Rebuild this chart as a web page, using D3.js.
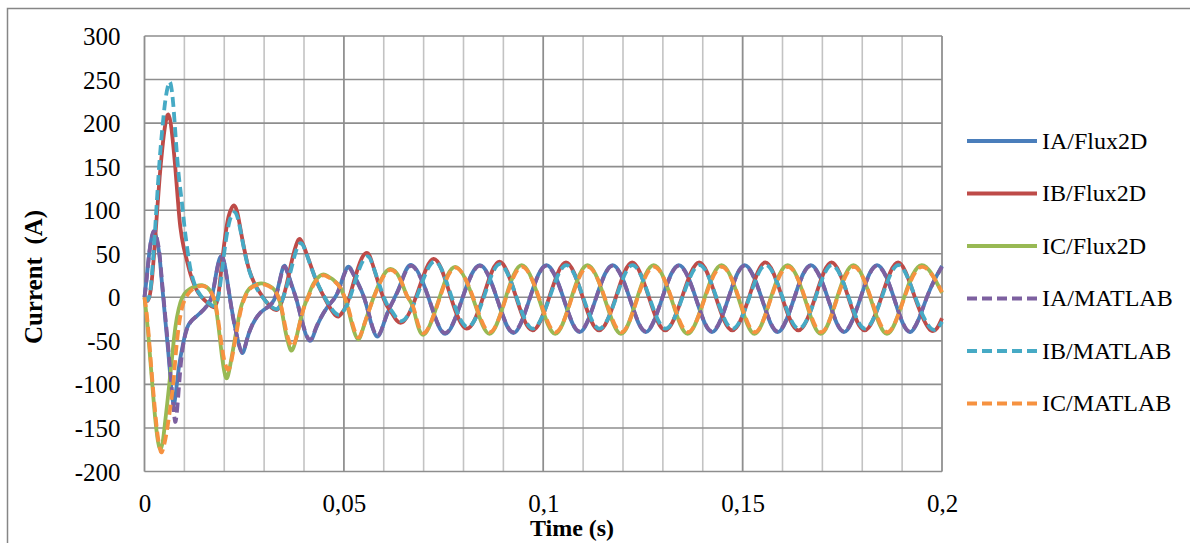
<!DOCTYPE html>
<html><head><meta charset="utf-8">
<script src="https://cdn.jsdelivr.net/npm/d3@7"></script>
<style>
body{margin:0;background:#fff}
svg{display:block}
text{font-family:"Liberation Serif","Times New Roman",serif;fill:#000}
</style>
</head><body>
<svg id="c" width="1190" height="543"></svg>
<script>
// ---------------- data ----------------
const seriesNames = ["IA/Flux2D","IB/Flux2D","IC/Flux2D","IA/MATLAB","IB/MATLAB","IC/MATLAB"];
const xTickValues = [0,0.05,0.1,0.15,0.2];
const xTickLabels = ["0","0,05","0,1","0,15","0,2"];
const yTickValues = [-200,-150,-100,-50,0,50,100,150,200,250,300];
const yTickLabels = ["-200","-150","-100","-50","0","50","100","150","200","250","300"];

const IA_Flux2D = [[0,0],[0.0006,25],[0.0014,58],[0.0023,75],[0.0030,68],[0.0037,50],[0.0043,20],[0.0047,0],[0.0053,-30],[0.0060,-65],[0.0067,-103],[0.0073,-123],[0.0079,-108],[0.0087,-78],[0.0096,-55],[0.0106,-36],[0.0120,-26],[0.0140,-18],[0.0158,-9],[0.0170,3],[0.0180,28],[0.0188,44],[0.0194,47],[0.0201,38],[0.0211,9],[0.0222,-22],[0.0233,-47],[0.0245,-64],[0.0256,-50],[0.0270,-32],[0.0290,-18],[0.0310,-11],[0.0325,-3],[0.0337,15],[0.0348,35],[0.0358,30],[0.0370,13],[0.0382,-4],[0.0398,-33],[0.0415,-50],[0.0430,-36],[0.0449,-18],[0.0466,-7],[0.0482,3],[0.0497,22],[0.0510,35],[0.0524,27],[0.0548,3],[0.0565,-24],[0.0583,-45],[0.0600,-30],[0.0616,-11],[0.0641,14],[0.0670,37],[0.0712,0],[0.0754,-42],[0.0798,0],[0.0841,37],[0.0883,0],[0.0925,-41],[0.0967,0],[0.1008,37],[0.1050,0],[0.1091,-40],[0.1133,0],[0.1174,37],[0.1216,0],[0.1257,-40],[0.1299,0],[0.1340,37],[0.1382,0],[0.1423,-40],[0.1465,0],[0.1505,37],[0.1547,0],[0.1588,-40],[0.1630,0],[0.1671,37],[0.1713,0],[0.1754,-40],[0.1796,0],[0.1837,37],[0.1879,0],[0.1920,-40],[0.1962,0],[0.2000,36]];

const IB_Flux2D = [[0,0],[0.0008,-4],[0.0016,10],[0.0024,50],[0.0031,95],[0.0038,138],[0.0045,172],[0.0052,198],[0.0060,210],[0.0068,192],[0.0077,150],[0.0084,110],[0.0090,80],[0.0098,58],[0.0106,43],[0.0115,27],[0.0125,14],[0.0135,5],[0.0148,-2],[0.0162,-8],[0.0176,-11],[0.0186,5],[0.0194,38],[0.0203,72],[0.0211,93],[0.0219,103],[0.0226,105],[0.0234,95],[0.0244,70],[0.0255,45],[0.0265,28],[0.0278,14],[0.0290,5],[0.0305,-5],[0.0319,-12],[0.0334,-14],[0.0348,0],[0.0360,22],[0.0370,43],[0.0381,61],[0.0390,67],[0.0400,58],[0.0415,39],[0.0430,20],[0.0445,5],[0.0460,-8],[0.0474,-18],[0.0487,-22],[0.0498,-16],[0.0508,-8],[0.0520,10],[0.0533,30],[0.0545,45],[0.0558,51],[0.0572,38],[0.0600,-2],[0.0620,-18],[0.0645,-29],[0.0682,2],[0.0725,44],[0.0767,2],[0.0808,-36],[0.0849,0],[0.0890,41],[0.0932,0],[0.0973,-38],[0.1015,0],[0.1057,40],[0.1099,0],[0.1140,-38],[0.1182,0],[0.1223,40],[0.1265,0],[0.1306,-38],[0.1348,0],[0.1391,40],[0.1433,0],[0.1474,-38],[0.1516,0],[0.1557,40],[0.1599,0],[0.1640,-38],[0.1682,0],[0.1723,40],[0.1765,0],[0.1806,-38],[0.1848,0],[0.1890,40],[0.1932,0],[0.1972,-38],[0.2000,-24]];

const IC_Flux2D = [[0,0],[0.0008,-35],[0.0016,-80],[0.0024,-125],[0.0032,-160],[0.0039,-174],[0.0046,-165],[0.0052,-142],[0.0057,-122],[0.0063,-96],[0.0069,-70],[0.0074,-47],[0.0081,-24],[0.0090,-6],[0.0100,4],[0.0115,10],[0.0130,13],[0.0144,14],[0.0158,11],[0.0168,5],[0.0177,-7],[0.0186,-35],[0.0195,-70],[0.0204,-92],[0.0212,-85],[0.0222,-60],[0.0231,-37],[0.0240,-15],[0.0248,-3],[0.0258,7],[0.0272,13],[0.0292,16],[0.0310,14],[0.0325,9],[0.0334,2],[0.0343,-12],[0.0353,-38],[0.0362,-55],[0.0370,-61],[0.0380,-48],[0.0390,-28],[0.0400,-11],[0.0412,3],[0.0424,16],[0.0445,26],[0.0460,24],[0.0474,20],[0.0490,12],[0.0500,2],[0.0510,-12],[0.0521,-32],[0.0535,-48],[0.0548,-36],[0.0566,-11],[0.0585,12],[0.0612,32],[0.0640,22],[0.0658,2],[0.0675,-14],[0.0700,-43],[0.0740,0],[0.0779,35],[0.0823,0],[0.0865,-42],[0.0906,0],[0.0946,37],[0.0988,0],[0.1030,-42],[0.1071,0],[0.1111,37],[0.1153,0],[0.1195,-42],[0.1236,0],[0.1277,37],[0.1320,0],[0.1362,-42],[0.1405,0],[0.1447,37],[0.1489,0],[0.1530,-42],[0.1571,0],[0.1613,37],[0.1655,0],[0.1696,-42],[0.1737,0],[0.1778,37],[0.1820,0],[0.1862,-42],[0.1905,0],[0.1949,37],[0.2000,5]];

const IA_MATLAB = [[0,0],[0.0006,24],[0.0014,58],[0.0023,76],[0.0030,70],[0.0037,52],[0.0043,23],[0.0047,3],[0.0053,-26],[0.0060,-60],[0.0067,-98],[0.0073,-128],[0.0077,-143],[0.0082,-128],[0.0089,-88],[0.0096,-58],[0.0106,-37],[0.0120,-26],[0.0140,-18],[0.0158,-9],[0.0170,3],[0.0180,27],[0.0188,43],[0.0194,46],[0.0201,37],[0.0211,8],[0.0222,-23],[0.0233,-47],[0.0245,-63],[0.0256,-50],[0.0270,-32],[0.0290,-18],[0.0310,-11],[0.0325,-3],[0.0337,14],[0.0348,34],[0.0358,29],[0.0370,12],[0.0382,-4],[0.0398,-32],[0.0415,-49],[0.0430,-35],[0.0449,-18],[0.0466,-7],[0.0482,3],[0.0497,21],[0.0510,34],[0.0524,26],[0.0548,3],[0.0565,-23],[0.0583,-44],[0.0600,-30],[0.0616,-11],[0.0641,13],[0.0670,36],[0.0712,0],[0.0754,-41],[0.0798,0],[0.0841,36],[0.0883,0],[0.0925,-40],[0.0967,0],[0.1008,36],[0.1050,0],[0.1091,-39],[0.1133,0],[0.1174,36],[0.1216,0],[0.1257,-39],[0.1299,0],[0.1340,36],[0.1382,0],[0.1423,-39],[0.1465,0],[0.1505,36],[0.1547,0],[0.1588,-39],[0.1630,0],[0.1671,36],[0.1713,0],[0.1754,-39],[0.1796,0],[0.1837,36],[0.1879,0],[0.1920,-39],[0.1962,0],[0.2000,35]];

const IB_MATLAB = [[0,0],[0.0008,-3],[0.0016,13],[0.0024,60],[0.0031,110],[0.0038,158],[0.0045,195],[0.0052,225],[0.0059,243],[0.0065,246],[0.0072,222],[0.0080,172],[0.0087,135],[0.0094,108],[0.0100,82],[0.0106,60],[0.0115,33],[0.0125,16],[0.0135,6],[0.0148,-2],[0.0162,-7],[0.0176,-10],[0.0186,3],[0.0195,33],[0.0204,65],[0.0213,87],[0.0221,96],[0.0228,97],[0.0236,87],[0.0246,64],[0.0256,42],[0.0266,26],[0.0278,13],[0.0290,4],[0.0305,-5],[0.0319,-11],[0.0334,-13],[0.0348,0],[0.0361,20],[0.0372,40],[0.0383,57],[0.0393,62],[0.0403,54],[0.0417,36],[0.0432,18],[0.0447,4],[0.0462,-8],[0.0476,-17],[0.0489,-20],[0.0500,-15],[0.0510,-7],[0.0522,9],[0.0535,28],[0.0548,42],[0.0560,47],[0.0574,35],[0.0602,-2],[0.0622,-17],[0.0647,-27],[0.0684,2],[0.0727,41],[0.0769,2],[0.0810,-34],[0.0851,0],[0.0891,38],[0.0933,0],[0.0974,-36],[0.1016,0],[0.1058,37],[0.1100,0],[0.1141,-36],[0.1183,0],[0.1224,37],[0.1266,0],[0.1307,-36],[0.1349,0],[0.1392,37],[0.1434,0],[0.1475,-36],[0.1517,0],[0.1558,37],[0.1600,0],[0.1641,-36],[0.1683,0],[0.1724,37],[0.1766,0],[0.1807,-36],[0.1849,0],[0.1891,37],[0.1933,0],[0.1973,-36],[0.2000,-28]];

const IC_MATLAB = [[0,0],[0.0008,-30],[0.0016,-75],[0.0024,-118],[0.0032,-155],[0.0038,-172],[0.0043,-178],[0.0050,-168],[0.0058,-148],[0.0066,-122],[0.0073,-95],[0.0079,-62],[0.0087,-30],[0.0096,-9],[0.0108,3],[0.0120,9],[0.0133,12],[0.0146,13],[0.0160,10],[0.0170,3],[0.0179,-10],[0.0189,-40],[0.0199,-70],[0.0209,-83],[0.0217,-75],[0.0226,-53],[0.0234,-32],[0.0243,-12],[0.0251,-1],[0.0261,8],[0.0275,13],[0.0293,15],[0.0311,13],[0.0326,8],[0.0335,1],[0.0344,-13],[0.0355,-38],[0.0364,-52],[0.0372,-56],[0.0382,-44],[0.0392,-25],[0.0402,-9],[0.0414,4],[0.0426,16],[0.0446,25],[0.0461,23],[0.0475,19],[0.0491,11],[0.0501,1],[0.0511,-12],[0.0522,-31],[0.0536,-46],[0.0549,-34],[0.0567,-10],[0.0586,12],[0.0613,31],[0.0641,21],[0.0659,1],[0.0676,-14],[0.0701,-41],[0.0741,0],[0.0780,34],[0.0824,0],[0.0866,-40],[0.0907,0],[0.0947,35],[0.0989,0],[0.1031,-40],[0.1072,0],[0.1112,35],[0.1154,0],[0.1196,-40],[0.1237,0],[0.1278,35],[0.1321,0],[0.1363,-40],[0.1406,0],[0.1448,35],[0.1490,0],[0.1531,-40],[0.1572,0],[0.1614,35],[0.1656,0],[0.1697,-40],[0.1738,0],[0.1779,35],[0.1821,0],[0.1863,-40],[0.1906,0],[0.1950,35],[0.2000,6]];

const seriesData = [IA_Flux2D, IB_Flux2D, IC_Flux2D, IA_MATLAB, IB_MATLAB, IC_MATLAB];
const seriesColors = ["#4A7EBB","#BE4B48","#98B954","#7D60A0","#46AAC5","#F69240"];
const seriesDashed = [false,false,false,true,true,true];

// ---------------- drawing ----------------
const FONT = '"Liberation Serif","Times New Roman",serif';
const svg = d3.select("#c");
const x = d3.scaleLinear().domain([0,0.2]).range([144.5,942]);
const y = d3.scaleLinear().domain([-200,300]).range([471.5,36]);

// outer chart border
svg.append("rect").attr("x",7.5).attr("y",8.5).attr("width",1250).attr("height",600)
  .attr("fill","none").attr("stroke","#868686").attr("stroke-width",1.5);

const grid = svg.append("g");
// minor vertical (every 0.01)
grid.selectAll(".vmin").data(x.ticks(20)).join("line")
  .attr("x1",d=>x(d)).attr("x2",d=>x(d)).attr("y1",y(300)).attr("y2",y(-200))
  .attr("stroke","#c3c3c3").attr("stroke-width",1.6);
// horizontal
grid.selectAll(".h").data(yTickValues).join("line")
  .attr("x1",x(0)).attr("x2",x(0.2)).attr("y1",d=>y(d)).attr("y2",d=>y(d))
  .attr("stroke","#8e8e8e").attr("stroke-width",1.6);
// major vertical
grid.selectAll(".vmaj").data(xTickValues).join("line")
  .attr("x1",d=>x(d)).attr("x2",d=>x(d)).attr("y1",y(300)).attr("y2",y(-200))
  .attr("stroke","#8e8e8e").attr("stroke-width",1.6);

// axes (labels)
const yAxis = d3.axisLeft(y).tickValues(yTickValues).tickSize(0).tickPadding(24)
  .tickFormat((d,i)=>yTickLabels[i]);
const gy = svg.append("g").attr("transform",`translate(${x(0)},0)`).call(yAxis);
gy.attr("font-family",null);
gy.select(".domain").remove();
gy.selectAll("text").style("font-family",FONT).attr("font-size",25).attr("dy","0.34em");

const xAxis = d3.axisBottom(x).tickValues(xTickValues).tickSize(0).tickPadding(0)
  .tickFormat((d,i)=>xTickLabels[i]);
const gx = svg.append("g").attr("transform",`translate(0,${y(-200)})`).call(xAxis);
gx.attr("font-family",null);
gx.select(".domain").remove();
gx.selectAll("text").style("font-family",FONT).attr("font-size",25).attr("y",40.5).attr("dy",0);

// series
const line = d3.line().x(d=>x(d[0])).y(d=>y(d[1])).curve(d3.curveNatural);
svg.append("g").selectAll("path").data(seriesData).join("path")
  .attr("d",line).attr("fill","none")
  .attr("stroke",(d,i)=>seriesColors[i])
  .attr("stroke-width",3.8)
  .attr("stroke-linejoin","round")
  .attr("stroke-dasharray",(d,i)=>seriesDashed[i]?"10,5":null);

// axis titles
svg.append("text").attr("transform","translate(42,277) rotate(-90)")
  .attr("text-anchor","middle").attr("font-weight","bold").attr("font-size",25)
  .style("white-space","pre").text("Current  (A)");
svg.append("text").attr("x",572).attr("y",536)
  .attr("text-anchor","middle").attr("font-weight","bold").attr("font-size",24)
  .text("Time (s)");

// legend
const lg = svg.append("g");
const legY = d3.scalePoint().domain(seriesNames).range([141,403.5]);
seriesNames.forEach((n,i)=>{
  lg.append("line").attr("x1",967).attr("x2",1037).attr("y1",legY(n)).attr("y2",legY(n))
    .attr("stroke",seriesColors[i]).attr("stroke-width",4)
    .attr("stroke-dasharray",seriesDashed[i]?"10,5":null);
  lg.append("text").attr("x",1042).attr("y",legY(n)).attr("dy","0.33em")
    .attr("font-size",24).text(n);
});
</script>
</body></html>
